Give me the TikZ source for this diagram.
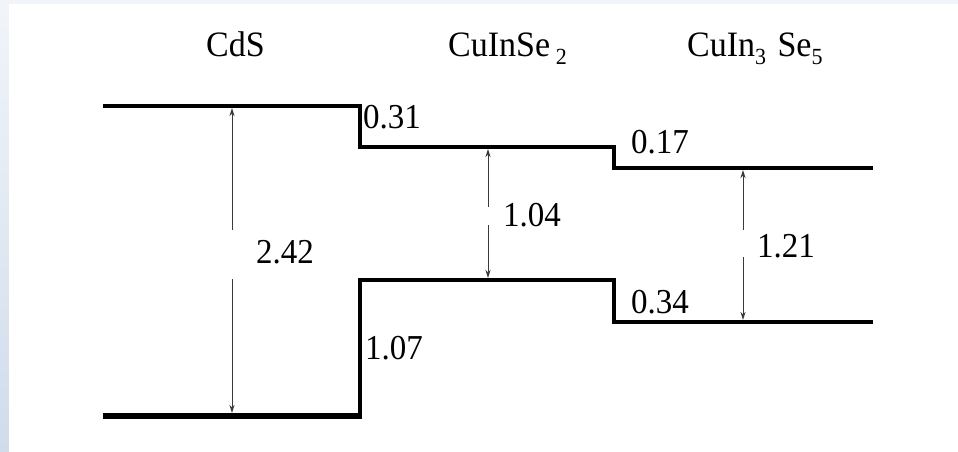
\documentclass[tikz,border=0pt]{standalone}
\usepackage{fontspec}
\setmainfont{Liberation Serif}
\usetikzlibrary{arrows.meta}
\definecolor{stripA}{HTML}{F1F5FA}
\definecolor{stripB}{HTML}{D0DCEA}
\definecolor{arrowgray}{HTML}{3A3A3A}
\tikzset{
  band/.style={line width=3.5pt, line join=miter, line cap=butt},
  thickband/.style={line width=6pt, line cap=butt},
  gaparrow/.style={line width=1pt, draw=arrowgray, -{Stealth[length=8pt,width=5pt,inset=2.5pt]}},
  lbl/.style={anchor=base west, inner sep=0pt, font=\fontsize{34}{40}\selectfont, yscale=1.05},
  val/.style={anchor=base west, inner sep=0pt, font=\fontsize{33}{40}\selectfont, yscale=1.06},
}
\newcommand{\lowsub}[1]{\raisebox{-8pt}{\fontsize{22}{24}\selectfont #1}}
\begin{document}
\begin{tikzpicture}[x=1pt,y=-1pt]
\useasboundingbox (0,0) rectangle (958,452);
% background
\fill[stripA] (0,0) rectangle (958,4);
\shade[top color=stripA, bottom color=stripB] (0,0) rectangle (9,452);
\fill[white] (9,4) rectangle (958,452);

% band edge coordinates
\coordinate (cb1a) at (103,106);
\coordinate (cb1b) at (360,106);
\coordinate (cb2a) at (360,147);
\coordinate (cb2b) at (614,147);
\coordinate (cb3a) at (614,168);
\coordinate (cb3b) at (873,168);
\coordinate (vb1a) at (103,416);
\coordinate (vb1b) at (360,416);
\coordinate (vb2a) at (360,280);
\coordinate (vb2b) at (614,280);
\coordinate (vb3a) at (614,322);
\coordinate (vb3b) at (873,322);

% conduction band
\draw[band] (cb1a) -- (cb1b) -- (cb2a) -- (cb2b) -- (cb3a) -- (cb3b);
% valence band
\draw[band] (vb1b) -- (vb2a) -- (vb2b) -- (vb3a) -- (vb3b);
\draw[thickband] (vb1a) -- ([xshift=1.75pt]vb1b);

% gap arrows
\coordinate (a1t) at (232,108);
\coordinate (a1u) at (232,230);
\coordinate (a1l) at (232,279);
\coordinate (a1b) at (232,413);
\draw[gaparrow] (a1u) -- (a1t);
\draw[gaparrow] (a1l) -- (a1b);

\coordinate (a2t) at (488,149);
\coordinate (a2u) at (488,207);
\coordinate (a2l) at (488,225);
\coordinate (a2b) at (488,278);
\draw[gaparrow] (a2u) -- (a2t);
\draw[gaparrow] (a2l) -- (a2b);

\coordinate (a3t) at (743,170);
\coordinate (a3u) at (743,230);
\coordinate (a3l) at (743,257);
\coordinate (a3b) at (743,320);
\draw[gaparrow] (a3u) -- (a3t);
\draw[gaparrow] (a3l) -- (a3b);

% material labels
\node[lbl] (cds) at (206,56) {CdS};
\node[lbl] (cis) at (448,56) {CuInSe\,\lowsub{2}};
\node[lbl] (cis35) at (687,56) {CuIn\lowsub{3}\,\,Se\lowsub{5}};

% values
\node[val] (v031) at (363,128) {0.31};
\node[val] (v017) at (631,153) {0.17};
\node[val] (v104) at (503,226) {1.04};
\node[val] (v242) at (256,263) {2.42};
\node[val] (v121) at (757,257) {1.21};
\node[val] (v034) at (631,313) {0.34};
\node[val] (v107) at (365,359) {1.07};
\end{tikzpicture}
\end{document}
